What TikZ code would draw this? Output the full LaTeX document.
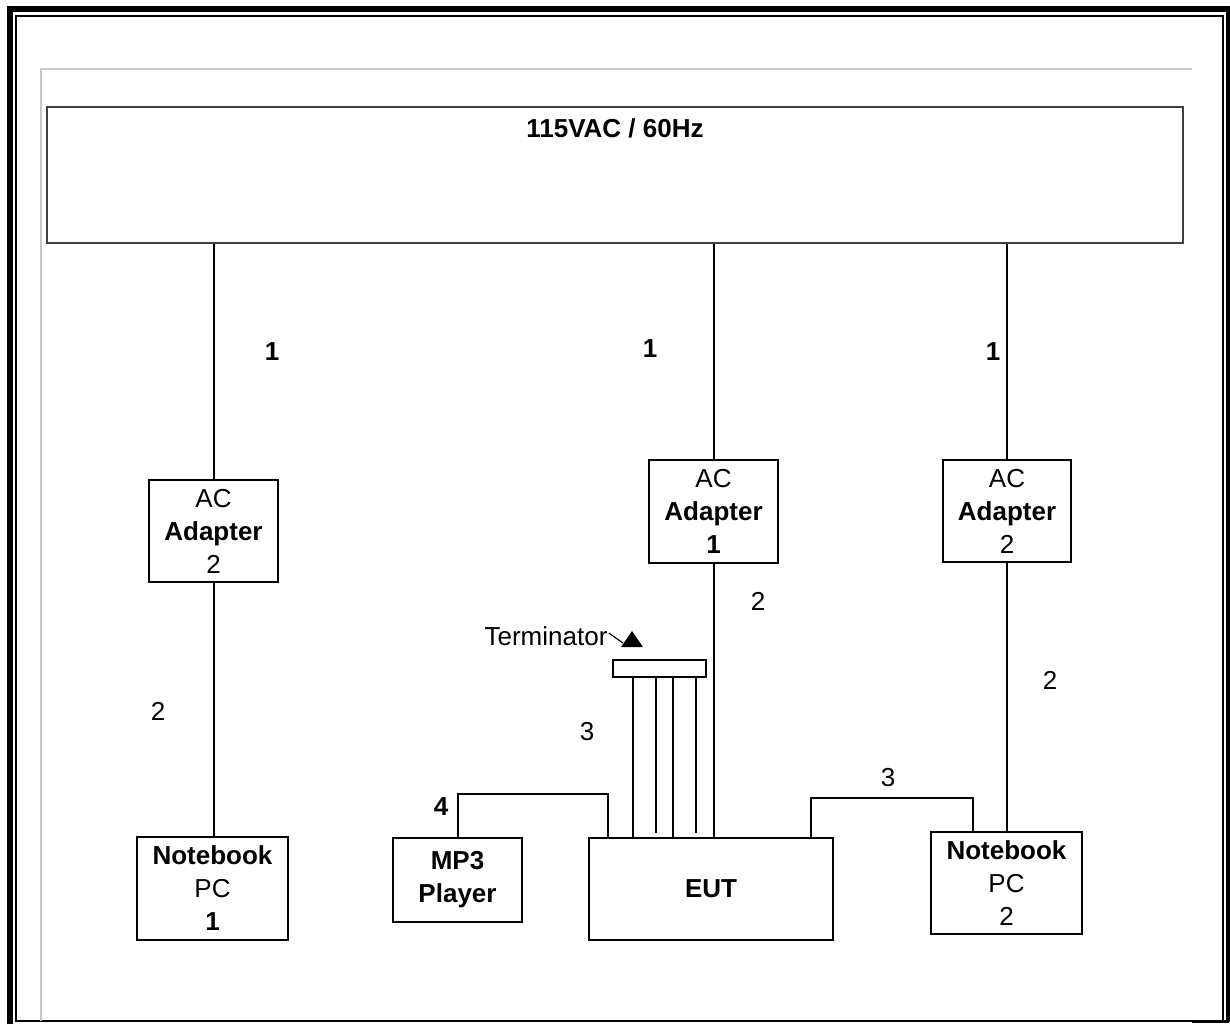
\documentclass[tikz,border=0pt]{standalone}
\usepackage{fontspec}
\setmainfont{Liberation Sans}
\begin{document}
\begin{tikzpicture}[x=0.5pt,y=-0.5pt,
  box/.style={draw=black, line width=1pt, align=center, inner sep=0pt,
    font=\fontsize{13}{16.5}\selectfont},
  wire/.style={line width=1pt, draw=black},
  lbl/.style={font=\fontsize{13}{14}\selectfont, inner sep=0pt},
  blbl/.style={font=\fontsize{13}{14}\selectfont\bfseries, inner sep=0pt}]
\useasboundingbox (0,0) rectangle (1230,1024);
\fill[white] (0,0) rectangle (1230,1024);
% outer frame
\draw[line width=3pt] (10,1024) -- (10,6);
\draw[line width=3pt] (7,9) -- (1229,9);
\draw[line width=2pt] (1227.5,6) -- (1227.5,1022);
\draw[line width=1pt] (15.5,1021) -- (15.5,15.5) -- (1223,15.5) -- (1223,1021);
\draw[line width=1pt] (15,1021) -- (1229,1021);
\draw[line width=1.5pt] (1192,1021) -- (1229,1021);
% gray frame
\draw[line width=1pt, draw=black!22] (40.5,1021) -- (40.5,68.5) -- (1192,68.5);

% main supply box
\node[draw=black!75, line width=1pt, minimum width=568pt, minimum height=68pt, inner sep=0pt] (main) at (615,175) {};
\node[blbl] (mainlbl) at (615,128) {115VAC / 60Hz};

% boxes
\node[box, minimum width=64.5pt, minimum height=51pt] (adL) at (213.5,531) {AC\\\textbf{Adapter}\\2};
\node[box, minimum width=64.5pt, minimum height=51.5pt] (ad1) at (713.5,511.5) {AC\\\textbf{Adapter}\\\textbf{1}};
\node[box, minimum width=64pt, minimum height=51pt] (ad2) at (1007,511) {AC\\\textbf{Adapter}\\2};
\node[box, minimum width=75.5pt, minimum height=51.5pt] (nb1) at (212.5,888.5) {\textbf{Notebook}\\PC\\\textbf{1}};
\node[box, minimum width=75.5pt, minimum height=51pt] (nb2) at (1006.5,883) {\textbf{Notebook}\\PC\\2};
\node[box, minimum width=64.5pt, minimum height=42pt] (mp3) at (457.5,880) {\textbf{MP3}\\\textbf{Player}};
\node[box, minimum width=122pt, minimum height=51pt, font=\fontsize{13}{16.5}\selectfont\bfseries] (eut) at (711,889) {EUT};
\node[box, minimum width=46.5pt, minimum height=8.5pt] (term) at (659.5,668.5) {};

% power wires
\draw[wire] (adL.north) -- (adL.north |- main.south);
\draw[wire] (ad1.north) -- (ad1.north |- main.south);
\draw[wire] (ad2.north) -- (ad2.north |- main.south);
\draw[wire] (adL.south) -- (adL.south |- nb1.north);
\draw[wire] (ad1.south) -- (ad1.south |- eut.north);
\draw[wire] (ad2.south) -- (ad2.south |- nb2.north);

% cable 4 (MP3)
\coordinate (c4) at (608,794);
\draw[wire] (mp3.north) |- (c4) -- (c4 |- eut.north);
% cable 3 (Notebook 2)
\coordinate (c3a) at (811,798);
\coordinate (c3b) at (973,798);
\draw[wire] (c3a |- eut.north) -- (c3a) -- (c3b) -- (c3b |- nb2.north);
% terminator cable
\coordinate (t1) at (633,0);
\coordinate (t2) at (656,0);
\coordinate (t3) at (673,0);
\coordinate (t4) at (696,0);
\draw[wire] (t1 |- term.south) -- (t1 |- eut.north);
\draw[wire] (t2 |- term.south) -- ([yshift=2pt]t2 |- eut.north);
\draw[wire] (t3 |- term.south) -- (t3 |- eut.north);
\draw[wire] (t4 |- term.south) -- ([yshift=2pt]t4 |- eut.north);

% terminator callout
\node[lbl] (termlbl) at (546,636) {Terminator};
\coordinate (tip) at (623,643);
\draw[line width=0.6pt] ([xshift=0.5pt,yshift=1.5pt]termlbl.east) -- (tip);
\fill (621,647) -- (632,631) -- (643,647) -- cycle;

% labels
\node[blbl] (l1a) at (272,352) {1};
\node[blbl] (l1b) at (650,349) {1};
\node[blbl] (l1c) at (993,352) {1};
\node[lbl] (l2a) at (158,711) {2};
\node[lbl] (l2b) at (758,601) {2};
\node[lbl] (l2c) at (1050,680) {2};
\node[lbl] (l3a) at (587,732) {3};
\node[lbl] (l3b) at (888,778) {3};
\node[blbl] (l4) at (441,807) {4};
\end{tikzpicture}
\end{document}
